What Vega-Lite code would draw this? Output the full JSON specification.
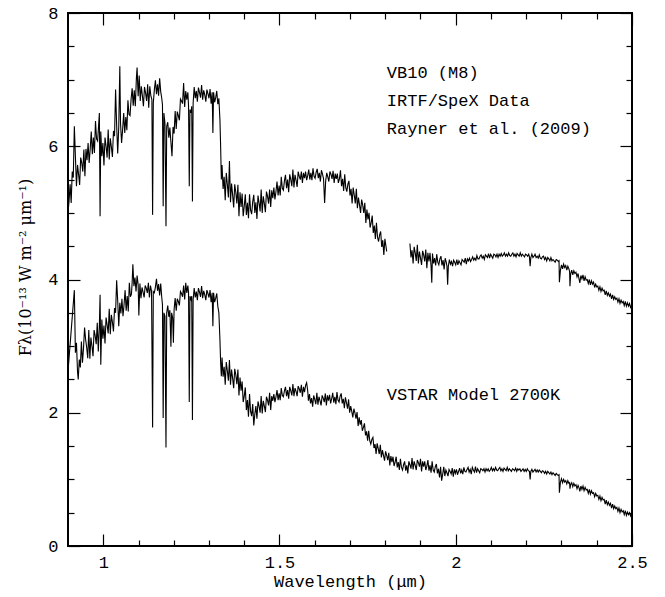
{
  "$schema": "https://vega.github.io/schema/vega-lite/v6.json",
  "width": 564,
  "height": 533,
  "autosize": {"type": "none"},
  "padding": {"left": 68, "top": 13, "right": 33, "bottom": 51},
  "background": "white",
  "config": {
    "view": {"stroke": "black", "strokeWidth": 2},
    "axis": {
      "domain": false,
      "grid": false,
      "tickColor": "black",
      "tickWidth": 1.2,
      "labelColor": "black",
      "labelFont": "Liberation Mono",
      "labelFontSize": 17,
      "titleColor": "black",
      "titleFont": "Liberation Mono",
      "titleFontSize": 17,
      "titleFontWeight": "normal"
    },
    "text": {"font": "Liberation Mono", "fontSize": 17, "color": "black"}
  },
  "datasets": {
    "vb10": [
      {"wl":0.900,"flux":5.0,"part":1},{"wl":0.903,"flux":5.18,"part":1},{"wl":0.906,"flux":5.43,"part":1},{"wl":0.909,"flux":5.15,"part":1},{"wl":0.912,"flux":5.62,"part":1},{"wl":0.915,"flux":5.53,"part":1},{"wl":0.918,"flux":6.3,"part":1},{"wl":0.921,"flux":5.85,"part":1},{"wl":0.924,"flux":5.4,"part":1},{"wl":0.927,"flux":5.72,"part":1},{"wl":0.930,"flux":5.58,"part":1},{"wl":0.933,"flux":5.42,"part":1},{"wl":0.936,"flux":5.83,"part":1},{"wl":0.939,"flux":5.75,"part":1},{"wl":0.942,"flux":5.62,"part":1},{"wl":0.945,"flux":5.95,"part":1},{"wl":0.948,"flux":5.55,"part":1},{"wl":0.951,"flux":5.96,"part":1},{"wl":0.954,"flux":5.79,"part":1},{"wl":0.957,"flux":6.05,"part":1},{"wl":0.960,"flux":5.75,"part":1},{"wl":0.963,"flux":5.96,"part":1},{"wl":0.966,"flux":6.22,"part":1},{"wl":0.969,"flux":5.88,"part":1},{"wl":0.972,"flux":6.13,"part":1},{"wl":0.975,"flux":5.9,"part":1},{"wl":0.978,"flux":6.38,"part":1},{"wl":0.981,"flux":6.11,"part":1},{"wl":0.984,"flux":6.08,"part":1},{"wl":0.987,"flux":6.33,"part":1},{"wl":0.989,"flux":6.5,"part":1},{"wl":0.991,"flux":4.95,"part":1},{"wl":0.993,"flux":6.22,"part":1},{"wl":0.996,"flux":5.85,"part":1},{"wl":0.999,"flux":6.05,"part":1},{"wl":1.002,"flux":5.71,"part":1},{"wl":1.005,"flux":6.13,"part":1},{"wl":1.008,"flux":6.0,"part":1},{"wl":1.011,"flux":5.83,"part":1},{"wl":1.014,"flux":6.25,"part":1},{"wl":1.017,"flux":5.8,"part":1},{"wl":1.020,"flux":6.12,"part":1},{"wl":1.023,"flux":5.99,"part":1},{"wl":1.026,"flux":5.84,"part":1},{"wl":1.029,"flux":6.23,"part":1},{"wl":1.032,"flux":6.15,"part":1},{"wl":1.035,"flux":6.85,"part":1},{"wl":1.038,"flux":6.32,"part":1},{"wl":1.041,"flux":5.89,"part":1},{"wl":1.044,"flux":6.29,"part":1},{"wl":1.047,"flux":7.2,"part":1},{"wl":1.049,"flux":6.35,"part":1},{"wl":1.052,"flux":6.05,"part":1},{"wl":1.055,"flux":6.25,"part":1},{"wl":1.058,"flux":6.5,"part":1},{"wl":1.061,"flux":6.2,"part":1},{"wl":1.064,"flux":6.44,"part":1},{"wl":1.067,"flux":6.24,"part":1},{"wl":1.070,"flux":6.69,"part":1},{"wl":1.073,"flux":6.48,"part":1},{"wl":1.076,"flux":6.46,"part":1},{"wl":1.079,"flux":6.71,"part":1},{"wl":1.082,"flux":6.87,"part":1},{"wl":1.085,"flux":6.61,"part":1},{"wl":1.088,"flux":6.84,"part":1},{"wl":1.091,"flux":6.6,"part":1},{"wl":1.094,"flux":7.02,"part":1},{"wl":1.096,"flux":7.18,"part":1},{"wl":1.099,"flux":6.75,"part":1},{"wl":1.102,"flux":7.06,"part":1},{"wl":1.105,"flux":6.68,"part":1},{"wl":1.108,"flux":6.9,"part":1},{"wl":1.111,"flux":6.76,"part":1},{"wl":1.114,"flux":6.6,"part":1},{"wl":1.117,"flux":6.89,"part":1},{"wl":1.120,"flux":6.8,"part":1},{"wl":1.123,"flux":6.68,"part":1},{"wl":1.126,"flux":6.93,"part":1},{"wl":1.129,"flux":6.58,"part":1},{"wl":1.132,"flux":6.9,"part":1},{"wl":1.135,"flux":6.76,"part":1},{"wl":1.138,"flux":6.7,"part":1},{"wl":1.140,"flux":4.97,"part":1},{"wl":1.142,"flux":6.65,"part":1},{"wl":1.145,"flux":6.85,"part":1},{"wl":1.148,"flux":6.99,"part":1},{"wl":1.151,"flux":6.78,"part":1},{"wl":1.154,"flux":6.93,"part":1},{"wl":1.157,"flux":6.76,"part":1},{"wl":1.160,"flux":7.02,"part":1},{"wl":1.163,"flux":6.82,"part":1},{"wl":1.166,"flux":6.72,"part":1},{"wl":1.168,"flux":6.62,"part":1},{"wl":1.170,"flux":5.1,"part":1},{"wl":1.172,"flux":6.5,"part":1},{"wl":1.175,"flux":6.35,"part":1},{"wl":1.178,"flux":4.8,"part":1},{"wl":1.180,"flux":6.3,"part":1},{"wl":1.183,"flux":6.36,"part":1},{"wl":1.186,"flux":6.13,"part":1},{"wl":1.189,"flux":6.28,"part":1},{"wl":1.192,"flux":6.06,"part":1},{"wl":1.195,"flux":5.85,"part":1},{"wl":1.198,"flux":6.29,"part":1},{"wl":1.201,"flux":6.19,"part":1},{"wl":1.204,"flux":6.53,"part":1},{"wl":1.207,"flux":6.26,"part":1},{"wl":1.210,"flux":6.52,"part":1},{"wl":1.213,"flux":6.46,"part":1},{"wl":1.216,"flux":6.39,"part":1},{"wl":1.219,"flux":6.71,"part":1},{"wl":1.222,"flux":6.68,"part":1},{"wl":1.225,"flux":6.64,"part":1},{"wl":1.228,"flux":6.95,"part":1},{"wl":1.231,"flux":6.59,"part":1},{"wl":1.234,"flux":6.83,"part":1},{"wl":1.237,"flux":6.7,"part":1},{"wl":1.240,"flux":6.81,"part":1},{"wl":1.242,"flux":6.6,"part":1},{"wl":1.244,"flux":5.4,"part":1},{"wl":1.246,"flux":6.55,"part":1},{"wl":1.249,"flux":6.5,"part":1},{"wl":1.251,"flux":6.6,"part":1},{"wl":1.253,"flux":5.17,"part":1},{"wl":1.255,"flux":6.65,"part":1},{"wl":1.258,"flux":6.89,"part":1},{"wl":1.261,"flux":6.72,"part":1},{"wl":1.264,"flux":6.83,"part":1},{"wl":1.267,"flux":6.67,"part":1},{"wl":1.270,"flux":6.88,"part":1},{"wl":1.273,"flux":6.81,"part":1},{"wl":1.276,"flux":6.73,"part":1},{"wl":1.279,"flux":6.92,"part":1},{"wl":1.282,"flux":6.7,"part":1},{"wl":1.285,"flux":6.84,"part":1},{"wl":1.288,"flux":6.77,"part":1},{"wl":1.291,"flux":6.67,"part":1},{"wl":1.294,"flux":6.85,"part":1},{"wl":1.297,"flux":6.79,"part":1},{"wl":1.300,"flux":6.72,"part":1},{"wl":1.303,"flux":6.86,"part":1},{"wl":1.306,"flux":6.64,"part":1},{"wl":1.309,"flux":6.81,"part":1},{"wl":1.311,"flux":6.2,"part":1},{"wl":1.313,"flux":6.81,"part":1},{"wl":1.316,"flux":6.66,"part":1},{"wl":1.319,"flux":6.73,"part":1},{"wl":1.322,"flux":6.83,"part":1},{"wl":1.325,"flux":6.63,"part":1},{"wl":1.328,"flux":6.72,"part":1},{"wl":1.331,"flux":6.4,"part":1},{"wl":1.333,"flux":6.0,"part":1},{"wl":1.335,"flux":5.5,"part":1},{"wl":1.337,"flux":5.72,"part":1},{"wl":1.340,"flux":5.36,"part":1},{"wl":1.343,"flux":5.54,"part":1},{"wl":1.346,"flux":5.19,"part":1},{"wl":1.349,"flux":5.6,"part":1},{"wl":1.352,"flux":5.43,"part":1},{"wl":1.355,"flux":5.23,"part":1},{"wl":1.358,"flux":5.78,"part":1},{"wl":1.361,"flux":5.16,"part":1},{"wl":1.364,"flux":5.44,"part":1},{"wl":1.367,"flux":5.27,"part":1},{"wl":1.370,"flux":5.08,"part":1},{"wl":1.373,"flux":5.43,"part":1},{"wl":1.376,"flux":5.31,"part":1},{"wl":1.379,"flux":5.14,"part":1},{"wl":1.382,"flux":5.42,"part":1},{"wl":1.385,"flux":4.95,"part":1},{"wl":1.388,"flux":5.31,"part":1},{"wl":1.391,"flux":5.09,"part":1},{"wl":1.394,"flux":5.29,"part":1},{"wl":1.397,"flux":4.95,"part":1},{"wl":1.400,"flux":5.1,"part":1},{"wl":1.403,"flux":5.28,"part":1},{"wl":1.406,"flux":4.97,"part":1},{"wl":1.409,"flux":5.15,"part":1},{"wl":1.412,"flux":4.92,"part":1},{"wl":1.415,"flux":5.28,"part":1},{"wl":1.418,"flux":5.04,"part":1},{"wl":1.421,"flux":4.98,"part":1},{"wl":1.424,"flux":5.17,"part":1},{"wl":1.427,"flux":5.27,"part":1},{"wl":1.430,"flux":5.0,"part":1},{"wl":1.433,"flux":5.16,"part":1},{"wl":1.436,"flux":4.91,"part":1},{"wl":1.439,"flux":5.26,"part":1},{"wl":1.442,"flux":5.15,"part":1},{"wl":1.445,"flux":5.02,"part":1},{"wl":1.448,"flux":5.35,"part":1},{"wl":1.451,"flux":5.0,"part":1},{"wl":1.454,"flux":5.25,"part":1},{"wl":1.457,"flux":5.14,"part":1},{"wl":1.460,"flux":5.01,"part":1},{"wl":1.463,"flux":5.32,"part":1},{"wl":1.466,"flux":5.25,"part":1},{"wl":1.469,"flux":5.14,"part":1},{"wl":1.472,"flux":5.35,"part":1},{"wl":1.475,"flux":5.09,"part":1},{"wl":1.478,"flux":5.34,"part":1},{"wl":1.481,"flux":5.22,"part":1},{"wl":1.484,"flux":5.38,"part":1},{"wl":1.487,"flux":5.2,"part":1},{"wl":1.490,"flux":5.32,"part":1},{"wl":1.493,"flux":5.47,"part":1},{"wl":1.496,"flux":5.26,"part":1},{"wl":1.499,"flux":5.41,"part":1},{"wl":1.502,"flux":5.26,"part":1},{"wl":1.505,"flux":5.54,"part":1},{"wl":1.508,"flux":5.37,"part":1},{"wl":1.511,"flux":5.34,"part":1},{"wl":1.514,"flux":5.48,"part":1},{"wl":1.517,"flux":5.57,"part":1},{"wl":1.520,"flux":5.37,"part":1},{"wl":1.523,"flux":5.5,"part":1},{"wl":1.526,"flux":5.31,"part":1},{"wl":1.529,"flux":5.58,"part":1},{"wl":1.532,"flux":5.5,"part":1},{"wl":1.535,"flux":5.4,"part":1},{"wl":1.538,"flux":5.65,"part":1},{"wl":1.541,"flux":5.38,"part":1},{"wl":1.544,"flux":5.57,"part":1},{"wl":1.547,"flux":5.49,"part":1},{"wl":1.550,"flux":5.39,"part":1},{"wl":1.553,"flux":5.62,"part":1},{"wl":1.556,"flux":5.55,"part":1},{"wl":1.559,"flux":5.5,"part":1},{"wl":1.562,"flux":5.62,"part":1},{"wl":1.565,"flux":5.45,"part":1},{"wl":1.568,"flux":5.6,"part":1},{"wl":1.571,"flux":5.52,"part":1},{"wl":1.574,"flux":5.62,"part":1},{"wl":1.577,"flux":5.49,"part":1},{"wl":1.580,"flux":5.56,"part":1},{"wl":1.583,"flux":5.65,"part":1},{"wl":1.586,"flux":5.5,"part":1},{"wl":1.589,"flux":5.6,"part":1},{"wl":1.592,"flux":5.49,"part":1},{"wl":1.595,"flux":5.67,"part":1},{"wl":1.598,"flux":5.55,"part":1},{"wl":1.601,"flux":5.52,"part":1},{"wl":1.604,"flux":5.61,"part":1},{"wl":1.607,"flux":5.66,"part":1},{"wl":1.610,"flux":5.52,"part":1},{"wl":1.613,"flux":5.6,"part":1},{"wl":1.616,"flux":5.47,"part":1},{"wl":1.619,"flux":5.64,"part":1},{"wl":1.622,"flux":5.58,"part":1},{"wl":1.625,"flux":5.51,"part":1},{"wl":1.628,"flux":5.15,"part":1},{"wl":1.631,"flux":5.48,"part":1},{"wl":1.634,"flux":5.6,"part":1},{"wl":1.637,"flux":5.54,"part":1},{"wl":1.640,"flux":5.47,"part":1},{"wl":1.643,"flux":5.62,"part":1},{"wl":1.646,"flux":5.58,"part":1},{"wl":1.649,"flux":5.51,"part":1},{"wl":1.652,"flux":5.63,"part":1},{"wl":1.655,"flux":5.45,"part":1},{"wl":1.658,"flux":5.59,"part":1},{"wl":1.661,"flux":5.51,"part":1},{"wl":1.664,"flux":5.59,"part":1},{"wl":1.667,"flux":5.45,"part":1},{"wl":1.670,"flux":5.51,"part":1},{"wl":1.673,"flux":5.64,"part":1},{"wl":1.676,"flux":5.4,"part":1},{"wl":1.679,"flux":5.51,"part":1},{"wl":1.682,"flux":5.33,"part":1},{"wl":1.685,"flux":5.58,"part":1},{"wl":1.688,"flux":5.38,"part":1},{"wl":1.691,"flux":5.32,"part":1},{"wl":1.694,"flux":5.43,"part":1},{"wl":1.697,"flux":5.48,"part":1},{"wl":1.700,"flux":5.26,"part":1},{"wl":1.703,"flux":5.36,"part":1},{"wl":1.706,"flux":5.14,"part":1},{"wl":1.709,"flux":5.38,"part":1},{"wl":1.712,"flux":5.27,"part":1},{"wl":1.715,"flux":5.14,"part":1},{"wl":1.718,"flux":5.36,"part":1},{"wl":1.721,"flux":5.07,"part":1},{"wl":1.724,"flux":5.23,"part":1},{"wl":1.727,"flux":5.12,"part":1},{"wl":1.730,"flux":5.0,"part":1},{"wl":1.733,"flux":5.2,"part":1},{"wl":1.736,"flux":5.12,"part":1},{"wl":1.739,"flux":5.0,"part":1},{"wl":1.742,"flux":5.15,"part":1},{"wl":1.745,"flux":4.85,"part":1},{"wl":1.748,"flux":5.05,"part":1},{"wl":1.751,"flux":4.9,"part":1},{"wl":1.754,"flux":5.0,"part":1},{"wl":1.757,"flux":4.78,"part":1},{"wl":1.760,"flux":4.85,"part":1},{"wl":1.763,"flux":4.96,"part":1},{"wl":1.766,"flux":4.7,"part":1},{"wl":1.769,"flux":4.81,"part":1},{"wl":1.772,"flux":4.61,"part":1},{"wl":1.775,"flux":4.85,"part":1},{"wl":1.778,"flux":4.64,"part":1},{"wl":1.781,"flux":4.57,"part":1},{"wl":1.784,"flux":4.67,"part":1},{"wl":1.787,"flux":4.72,"part":1},{"wl":1.790,"flux":4.49,"part":1},{"wl":1.793,"flux":4.59,"part":1},{"wl":1.796,"flux":4.37,"part":1},{"wl":1.799,"flux":4.61,"part":1},{"wl":1.802,"flux":4.5,"part":1},{"wl":1.804,"flux":4.42,"part":1},
      {"wl":1.870,"flux":4.54,"part":2},{"wl":1.873,"flux":4.33,"part":2},{"wl":1.876,"flux":4.44,"part":2},{"wl":1.879,"flux":4.24,"part":2},{"wl":1.882,"flux":4.49,"part":2},{"wl":1.885,"flux":4.4,"part":2},{"wl":1.888,"flux":4.28,"part":2},{"wl":1.891,"flux":4.52,"part":2},{"wl":1.894,"flux":4.24,"part":2},{"wl":1.897,"flux":4.42,"part":2},{"wl":1.900,"flux":4.32,"part":2},{"wl":1.903,"flux":4.22,"part":2},{"wl":1.906,"flux":4.43,"part":2},{"wl":1.909,"flux":4.37,"part":2},{"wl":1.912,"flux":4.27,"part":2},{"wl":1.915,"flux":4.45,"part":2},{"wl":1.918,"flux":4.17,"part":2},{"wl":1.921,"flux":4.4,"part":2},{"wl":1.924,"flux":4.27,"part":2},{"wl":1.927,"flux":4.4,"part":2},{"wl":1.930,"flux":4.2,"part":2},{"wl":1.932,"flux":3.95,"part":2},{"wl":1.934,"flux":4.39,"part":2},{"wl":1.937,"flux":4.24,"part":2},{"wl":1.940,"flux":4.32,"part":2},{"wl":1.943,"flux":4.21,"part":2},{"wl":1.946,"flux":4.38,"part":2},{"wl":1.949,"flux":4.26,"part":2},{"wl":1.952,"flux":4.22,"part":2},{"wl":1.955,"flux":4.31,"part":2},{"wl":1.958,"flux":4.35,"part":2},{"wl":1.961,"flux":4.21,"part":2},{"wl":1.964,"flux":4.29,"part":2},{"wl":1.967,"flux":4.15,"part":2},{"wl":1.970,"flux":4.32,"part":2},{"wl":1.973,"flux":4.26,"part":2},{"wl":1.975,"flux":4.2,"part":2},{"wl":1.977,"flux":3.92,"part":2},{"wl":1.979,"flux":4.2,"part":2},{"wl":1.982,"flux":4.3,"part":2},{"wl":1.985,"flux":4.23,"part":2},{"wl":1.988,"flux":4.27,"part":2},{"wl":1.991,"flux":4.2,"part":2},{"wl":1.994,"flux":4.29,"part":2},{"wl":1.997,"flux":4.26,"part":2},{"wl":2.000,"flux":4.22,"part":2},{"wl":2.003,"flux":4.3,"part":2},{"wl":2.006,"flux":4.22,"part":2},{"wl":2.009,"flux":4.28,"part":2},{"wl":2.012,"flux":4.25,"part":2},{"wl":2.015,"flux":4.22,"part":2},{"wl":2.018,"flux":4.3,"part":2},{"wl":2.021,"flux":4.28,"part":2},{"wl":2.024,"flux":4.26,"part":2},{"wl":2.027,"flux":4.32,"part":2},{"wl":2.030,"flux":4.23,"part":2},{"wl":2.033,"flux":4.31,"part":2},{"wl":2.036,"flux":4.28,"part":2},{"wl":2.039,"flux":4.32,"part":2},{"wl":2.042,"flux":4.27,"part":2},{"wl":2.045,"flux":4.3,"part":2},{"wl":2.048,"flux":4.34,"part":2},{"wl":2.051,"flux":4.29,"part":2},{"wl":2.054,"flux":4.32,"part":2},{"wl":2.057,"flux":4.29,"part":2},{"wl":2.060,"flux":4.36,"part":2},{"wl":2.063,"flux":4.31,"part":2},{"wl":2.066,"flux":4.31,"part":2},{"wl":2.069,"flux":4.35,"part":2},{"wl":2.072,"flux":4.37,"part":2},{"wl":2.075,"flux":4.32,"part":2},{"wl":2.078,"flux":4.35,"part":2},{"wl":2.081,"flux":4.3,"part":2},{"wl":2.084,"flux":4.37,"part":2},{"wl":2.087,"flux":4.35,"part":2},{"wl":2.090,"flux":4.33,"part":2},{"wl":2.093,"flux":4.39,"part":2},{"wl":2.096,"flux":4.32,"part":2},{"wl":2.099,"flux":4.38,"part":2},{"wl":2.102,"flux":4.35,"part":2},{"wl":2.105,"flux":4.32,"part":2},{"wl":2.108,"flux":4.38,"part":2},{"wl":2.111,"flux":4.37,"part":2},{"wl":2.114,"flux":4.34,"part":2},{"wl":2.117,"flux":4.38,"part":2},{"wl":2.120,"flux":4.33,"part":2},{"wl":2.123,"flux":4.38,"part":2},{"wl":2.126,"flux":4.35,"part":2},{"wl":2.129,"flux":4.39,"part":2},{"wl":2.132,"flux":4.35,"part":2},{"wl":2.135,"flux":4.37,"part":2},{"wl":2.138,"flux":4.4,"part":2},{"wl":2.141,"flux":4.35,"part":2},{"wl":2.144,"flux":4.38,"part":2},{"wl":2.147,"flux":4.35,"part":2},{"wl":2.150,"flux":4.4,"part":2},{"wl":2.153,"flux":4.36,"part":2},{"wl":2.156,"flux":4.35,"part":2},{"wl":2.159,"flux":4.38,"part":2},{"wl":2.162,"flux":4.4,"part":2},{"wl":2.165,"flux":4.35,"part":2},{"wl":2.168,"flux":4.38,"part":2},{"wl":2.171,"flux":4.34,"part":2},{"wl":2.174,"flux":4.39,"part":2},{"wl":2.177,"flux":4.37,"part":2},{"wl":2.180,"flux":4.35,"part":2},{"wl":2.183,"flux":4.4,"part":2},{"wl":2.186,"flux":4.35,"part":2},{"wl":2.189,"flux":4.38,"part":2},{"wl":2.192,"flux":4.36,"part":2},{"wl":2.195,"flux":4.34,"part":2},{"wl":2.198,"flux":4.38,"part":2},{"wl":2.201,"flux":4.37,"part":2},{"wl":2.204,"flux":4.35,"part":2},{"wl":2.207,"flux":4.38,"part":2},{"wl":2.209,"flux":4.34,"part":2},{"wl":2.211,"flux":4.2,"part":2},{"wl":2.213,"flux":4.33,"part":2},{"wl":2.216,"flux":4.38,"part":2},{"wl":2.219,"flux":4.33,"part":2},{"wl":2.222,"flux":4.35,"part":2},{"wl":2.225,"flux":4.38,"part":2},{"wl":2.228,"flux":4.33,"part":2},{"wl":2.231,"flux":4.35,"part":2},{"wl":2.234,"flux":4.32,"part":2},{"wl":2.237,"flux":4.37,"part":2},{"wl":2.240,"flux":4.32,"part":2},{"wl":2.243,"flux":4.31,"part":2},{"wl":2.246,"flux":4.34,"part":2},{"wl":2.249,"flux":4.35,"part":2},{"wl":2.252,"flux":4.3,"part":2},{"wl":2.255,"flux":4.33,"part":2},{"wl":2.258,"flux":4.28,"part":2},{"wl":2.261,"flux":4.33,"part":2},{"wl":2.264,"flux":4.31,"part":2},{"wl":2.267,"flux":4.28,"part":2},{"wl":2.270,"flux":4.33,"part":2},{"wl":2.273,"flux":4.28,"part":2},{"wl":2.276,"flux":4.3,"part":2},{"wl":2.279,"flux":4.28,"part":2},{"wl":2.282,"flux":4.26,"part":2},{"wl":2.285,"flux":4.3,"part":2},{"wl":2.288,"flux":4.29,"part":2},{"wl":2.291,"flux":4.27,"part":2},{"wl":2.293,"flux":4.28,"part":2},{"wl":2.294,"flux":3.96,"part":2},{"wl":2.297,"flux":4.14,"part":2},{"wl":2.300,"flux":4.22,"part":2},{"wl":2.303,"flux":4.16,"part":2},{"wl":2.306,"flux":4.23,"part":2},{"wl":2.309,"flux":4.18,"part":2},{"wl":2.312,"flux":4.21,"part":2},{"wl":2.315,"flux":4.14,"part":2},{"wl":2.318,"flux":4.2,"part":2},{"wl":2.321,"flux":4.16,"part":2},{"wl":2.323,"flux":4.12,"part":2},{"wl":2.324,"flux":3.9,"part":2},{"wl":2.326,"flux":4.08,"part":2},{"wl":2.329,"flux":4.14,"part":2},{"wl":2.332,"flux":4.07,"part":2},{"wl":2.335,"flux":4.13,"part":2},{"wl":2.338,"flux":4.09,"part":2},{"wl":2.341,"flux":4.11,"part":2},{"wl":2.344,"flux":4.04,"part":2},{"wl":2.347,"flux":4.09,"part":2},{"wl":2.350,"flux":4.0,"part":2},{"wl":2.352,"flux":3.95,"part":2},{"wl":2.355,"flux":4.06,"part":2},{"wl":2.358,"flux":4.01,"part":2},{"wl":2.361,"flux":4.07,"part":2},{"wl":2.364,"flux":3.98,"part":2},{"wl":2.367,"flux":4.04,"part":2},{"wl":2.370,"flux":3.99,"part":2},{"wl":2.373,"flux":4.0,"part":2},{"wl":2.376,"flux":3.94,"part":2},{"wl":2.379,"flux":4.0,"part":2},{"wl":2.382,"flux":3.92,"part":2},{"wl":2.385,"flux":3.98,"part":2},{"wl":2.388,"flux":3.93,"part":2},{"wl":2.391,"flux":3.96,"part":2},{"wl":2.394,"flux":3.88,"part":2},{"wl":2.397,"flux":3.93,"part":2},{"wl":2.400,"flux":3.89,"part":2},{"wl":2.403,"flux":3.9,"part":2},{"wl":2.406,"flux":3.84,"part":2},{"wl":2.409,"flux":3.89,"part":2},{"wl":2.412,"flux":3.82,"part":2},{"wl":2.415,"flux":3.87,"part":2},{"wl":2.418,"flux":3.83,"part":2},{"wl":2.421,"flux":3.84,"part":2},{"wl":2.424,"flux":3.77,"part":2},{"wl":2.427,"flux":3.83,"part":2},{"wl":2.430,"flux":3.76,"part":2},{"wl":2.433,"flux":3.8,"part":2},{"wl":2.436,"flux":3.75,"part":2},{"wl":2.439,"flux":3.78,"part":2},{"wl":2.442,"flux":3.71,"part":2},{"wl":2.445,"flux":3.77,"part":2},{"wl":2.448,"flux":3.7,"part":2},{"wl":2.451,"flux":3.74,"part":2},{"wl":2.454,"flux":3.7,"part":2},{"wl":2.457,"flux":3.72,"part":2},{"wl":2.460,"flux":3.66,"part":2},{"wl":2.463,"flux":3.71,"part":2},{"wl":2.466,"flux":3.64,"part":2},{"wl":2.469,"flux":3.69,"part":2},{"wl":2.472,"flux":3.65,"part":2},{"wl":2.475,"flux":3.67,"part":2},{"wl":2.478,"flux":3.61,"part":2},{"wl":2.481,"flux":3.67,"part":2},{"wl":2.484,"flux":3.6,"part":2},{"wl":2.487,"flux":3.65,"part":2},{"wl":2.490,"flux":3.6,"part":2},{"wl":2.493,"flux":3.64,"part":2},{"wl":2.496,"flux":3.58,"part":2},{"wl":2.500,"flux":3.62,"part":2}
    ],
    "model": [
      {"wl":0.900,"flux":2.62},{"wl":0.918,"flux":3.84},{"wl":0.921,"flux":2.9},{"wl":0.924,"flux":3.05},{"wl":0.927,"flux":2.62},{"wl":0.929,"flux":2.5},{"wl":0.932,"flux":2.8},{"wl":0.935,"flux":2.68},{"wl":0.938,"flux":3.07},{"wl":0.941,"flux":2.75},{"wl":0.944,"flux":2.97},{"wl":0.947,"flux":3.28},{"wl":0.950,"flux":3.1},{"wl":0.953,"flux":2.98},{"wl":0.956,"flux":2.82},{"wl":0.959,"flux":3.24},{"wl":0.962,"flux":2.81},{"wl":0.965,"flux":3.13},{"wl":0.968,"flux":3.0},{"wl":0.971,"flux":2.85},{"wl":0.974,"flux":3.24},{"wl":0.977,"flux":3.16},{"wl":0.980,"flux":3.03},{"wl":0.983,"flux":3.35},{"wl":0.986,"flux":2.92},{"wl":0.989,"flux":3.31},{"wl":0.991,"flux":3.77},{"wl":0.993,"flux":2.72},{"wl":0.996,"flux":3.4},{"wl":0.999,"flux":3.11},{"wl":1.002,"flux":3.31},{"wl":1.005,"flux":3.04},{"wl":1.008,"flux":3.43},{"wl":1.011,"flux":3.32},{"wl":1.014,"flux":3.19},{"wl":1.017,"flux":3.56},{"wl":1.020,"flux":3.18},{"wl":1.023,"flux":3.47},{"wl":1.026,"flux":3.36},{"wl":1.029,"flux":3.22},{"wl":1.032,"flux":3.57},{"wl":1.035,"flux":3.5},{"wl":1.038,"flux":3.99},{"wl":1.041,"flux":3.68},{"wl":1.044,"flux":3.3},{"wl":1.047,"flux":3.65},{"wl":1.050,"flux":3.49},{"wl":1.053,"flux":3.71},{"wl":1.056,"flux":3.45},{"wl":1.059,"flux":3.62},{"wl":1.062,"flux":3.84},{"wl":1.065,"flux":3.53},{"wl":1.068,"flux":3.75},{"wl":1.071,"flux":3.52},{"wl":1.074,"flux":3.95},{"wl":1.077,"flux":3.74},{"wl":1.080,"flux":3.78},{"wl":1.082,"flux":3.96},{"wl":1.084,"flux":4.23},{"wl":1.087,"flux":3.9},{"wl":1.090,"flux":4.03},{"wl":1.093,"flux":3.82},{"wl":1.096,"flux":4.06},{"wl":1.099,"flux":3.92},{"wl":1.101,"flux":3.46},{"wl":1.104,"flux":3.94},{"wl":1.107,"flux":3.72},{"wl":1.110,"flux":3.88},{"wl":1.113,"flux":3.81},{"wl":1.116,"flux":3.73},{"wl":1.119,"flux":3.91},{"wl":1.122,"flux":3.87},{"wl":1.125,"flux":3.8},{"wl":1.128,"flux":3.95},{"wl":1.131,"flux":3.73},{"wl":1.134,"flux":3.91},{"wl":1.137,"flux":3.82},{"wl":1.140,"flux":1.78},{"wl":1.142,"flux":3.82},{"wl":1.145,"flux":3.8},{"wl":1.148,"flux":3.89},{"wl":1.151,"flux":4.01},{"wl":1.154,"flux":3.83},{"wl":1.157,"flux":3.93},{"wl":1.160,"flux":3.76},{"wl":1.163,"flux":3.94},{"wl":1.166,"flux":3.73},{"wl":1.168,"flux":3.62},{"wl":1.170,"flux":1.92},{"wl":1.172,"flux":3.5},{"wl":1.175,"flux":3.45},{"wl":1.178,"flux":1.48},{"wl":1.180,"flux":3.5},{"wl":1.183,"flux":3.61},{"wl":1.186,"flux":3.44},{"wl":1.189,"flux":3.54},{"wl":1.192,"flux":2.99},{"wl":1.194,"flux":3.5},{"wl":1.197,"flux":3.42},{"wl":1.199,"flux":3.05},{"wl":1.201,"flux":3.55},{"wl":1.204,"flux":3.72},{"wl":1.207,"flux":3.53},{"wl":1.210,"flux":3.71},{"wl":1.213,"flux":3.67},{"wl":1.216,"flux":3.61},{"wl":1.219,"flux":3.82},{"wl":1.222,"flux":3.79},{"wl":1.225,"flux":3.74},{"wl":1.228,"flux":3.91},{"wl":1.231,"flux":3.7},{"wl":1.234,"flux":3.95},{"wl":1.237,"flux":3.8},{"wl":1.240,"flux":3.91},{"wl":1.242,"flux":3.8},{"wl":1.244,"flux":2.16},{"wl":1.246,"flux":3.75},{"wl":1.249,"flux":3.7},{"wl":1.251,"flux":3.75},{"wl":1.253,"flux":1.89},{"wl":1.255,"flux":3.7},{"wl":1.258,"flux":3.87},{"wl":1.261,"flux":3.73},{"wl":1.264,"flux":3.82},{"wl":1.267,"flux":3.69},{"wl":1.270,"flux":3.87},{"wl":1.273,"flux":3.81},{"wl":1.276,"flux":3.74},{"wl":1.279,"flux":3.9},{"wl":1.282,"flux":3.72},{"wl":1.285,"flux":3.83},{"wl":1.288,"flux":3.77},{"wl":1.291,"flux":3.69},{"wl":1.294,"flux":3.84},{"wl":1.297,"flux":3.79},{"wl":1.300,"flux":3.73},{"wl":1.303,"flux":3.84},{"wl":1.306,"flux":3.66},{"wl":1.309,"flux":3.8},{"wl":1.311,"flux":3.3},{"wl":1.313,"flux":3.8},{"wl":1.316,"flux":3.66},{"wl":1.319,"flux":3.72},{"wl":1.322,"flux":3.79},{"wl":1.325,"flux":3.6},{"wl":1.328,"flux":3.5},{"wl":1.331,"flux":3.1},{"wl":1.333,"flux":2.75},{"wl":1.335,"flux":2.55},{"wl":1.337,"flux":2.83},{"wl":1.340,"flux":2.54},{"wl":1.343,"flux":2.69},{"wl":1.346,"flux":2.42},{"wl":1.349,"flux":2.76},{"wl":1.352,"flux":2.63},{"wl":1.355,"flux":2.48},{"wl":1.358,"flux":2.79},{"wl":1.361,"flux":2.42},{"wl":1.364,"flux":2.65},{"wl":1.367,"flux":2.52},{"wl":1.370,"flux":2.37},{"wl":1.373,"flux":2.66},{"wl":1.376,"flux":2.57},{"wl":1.379,"flux":2.43},{"wl":1.382,"flux":2.65},{"wl":1.385,"flux":2.26},{"wl":1.388,"flux":2.53},{"wl":1.391,"flux":2.33},{"wl":1.394,"flux":2.47},{"wl":1.397,"flux":2.16},{"wl":1.400,"flux":2.25},{"wl":1.403,"flux":2.38},{"wl":1.406,"flux":2.04},{"wl":1.409,"flux":2.19},{"wl":1.412,"flux":1.94},{"wl":1.415,"flux":2.28},{"wl":1.418,"flux":2.02},{"wl":1.421,"flux":1.95},{"wl":1.424,"flux":2.13},{"wl":1.427,"flux":1.81},{"wl":1.430,"flux":1.98},{"wl":1.433,"flux":2.1},{"wl":1.436,"flux":1.91},{"wl":1.439,"flux":2.17},{"wl":1.442,"flux":2.1},{"wl":1.445,"flux":2.0},{"wl":1.448,"flux":2.25},{"wl":1.451,"flux":1.99},{"wl":1.454,"flux":2.18},{"wl":1.457,"flux":2.1},{"wl":1.460,"flux":2.01},{"wl":1.463,"flux":2.24},{"wl":1.466,"flux":2.19},{"wl":1.469,"flux":2.11},{"wl":1.472,"flux":2.3},{"wl":1.475,"flux":2.04},{"wl":1.478,"flux":2.25},{"wl":1.481,"flux":2.18},{"wl":1.484,"flux":2.28},{"wl":1.487,"flux":2.16},{"wl":1.490,"flux":2.24},{"wl":1.493,"flux":2.34},{"wl":1.496,"flux":2.19},{"wl":1.499,"flux":2.29},{"wl":1.502,"flux":2.19},{"wl":1.505,"flux":2.37},{"wl":1.508,"flux":2.26},{"wl":1.511,"flux":2.24},{"wl":1.514,"flux":2.33},{"wl":1.517,"flux":2.39},{"wl":1.520,"flux":2.25},{"wl":1.523,"flux":2.34},{"wl":1.526,"flux":2.21},{"wl":1.529,"flux":2.39},{"wl":1.532,"flux":2.33},{"wl":1.535,"flux":2.26},{"wl":1.538,"flux":2.43},{"wl":1.541,"flux":2.25},{"wl":1.544,"flux":2.37},{"wl":1.547,"flux":2.32},{"wl":1.550,"flux":2.25},{"wl":1.553,"flux":2.4},{"wl":1.556,"flux":2.36},{"wl":1.559,"flux":2.3},{"wl":1.562,"flux":2.42},{"wl":1.565,"flux":2.24},{"wl":1.568,"flux":2.39},{"wl":1.571,"flux":2.31},{"wl":1.574,"flux":2.41},{"wl":1.577,"flux":2.45},{"wl":1.580,"flux":2.33},{"wl":1.582,"flux":2.18},{"wl":1.585,"flux":2.28},{"wl":1.588,"flux":2.14},{"wl":1.591,"flux":2.22},{"wl":1.594,"flux":2.09},{"wl":1.597,"flux":2.26},{"wl":1.600,"flux":2.2},{"wl":1.603,"flux":2.13},{"wl":1.606,"flux":2.3},{"wl":1.609,"flux":2.12},{"wl":1.612,"flux":2.24},{"wl":1.615,"flux":2.18},{"wl":1.618,"flux":2.11},{"wl":1.621,"flux":2.26},{"wl":1.624,"flux":2.22},{"wl":1.627,"flux":2.16},{"wl":1.630,"flux":2.29},{"wl":1.633,"flux":2.11},{"wl":1.636,"flux":2.26},{"wl":1.639,"flux":2.18},{"wl":1.642,"flux":2.27},{"wl":1.645,"flux":2.14},{"wl":1.648,"flux":2.21},{"wl":1.651,"flux":2.3},{"wl":1.654,"flux":2.15},{"wl":1.657,"flux":2.24},{"wl":1.660,"flux":2.13},{"wl":1.663,"flux":2.31},{"wl":1.666,"flux":2.19},{"wl":1.669,"flux":2.16},{"wl":1.672,"flux":2.25},{"wl":1.675,"flux":2.29},{"wl":1.678,"flux":2.14},{"wl":1.681,"flux":2.21},{"wl":1.684,"flux":2.07},{"wl":1.687,"flux":2.23},{"wl":1.690,"flux":2.15},{"wl":1.693,"flux":2.06},{"wl":1.696,"flux":2.2},{"wl":1.699,"flux":2.0},{"wl":1.702,"flux":2.1},{"wl":1.705,"flux":2.02},{"wl":1.708,"flux":1.93},{"wl":1.711,"flux":2.06},{"wl":1.714,"flux":2.0},{"wl":1.717,"flux":1.91},{"wl":1.720,"flux":2.01},{"wl":1.723,"flux":1.8},{"wl":1.726,"flux":1.93},{"wl":1.729,"flux":1.82},{"wl":1.732,"flux":1.89},{"wl":1.735,"flux":1.73},{"wl":1.738,"flux":1.78},{"wl":1.741,"flux":1.84},{"wl":1.744,"flux":1.66},{"wl":1.747,"flux":1.72},{"wl":1.750,"flux":1.58},{"wl":1.753,"flux":1.73},{"wl":1.756,"flux":1.58},{"wl":1.759,"flux":1.53},{"wl":1.762,"flux":1.6},{"wl":1.765,"flux":1.63},{"wl":1.768,"flux":1.47},{"wl":1.771,"flux":1.53},{"wl":1.774,"flux":1.38},{"wl":1.777,"flux":1.54},{"wl":1.780,"flux":1.46},{"wl":1.783,"flux":1.38},{"wl":1.786,"flux":1.52},{"wl":1.789,"flux":1.33},{"wl":1.792,"flux":1.44},{"wl":1.795,"flux":1.36},{"wl":1.798,"flux":1.28},{"wl":1.801,"flux":1.42},{"wl":1.804,"flux":1.36},{"wl":1.807,"flux":1.29},{"wl":1.810,"flux":1.4},{"wl":1.813,"flux":1.21},{"wl":1.816,"flux":1.35},{"wl":1.819,"flux":1.26},{"wl":1.822,"flux":1.34},{"wl":1.825,"flux":1.2},{"wl":1.828,"flux":1.26},{"wl":1.831,"flux":1.34},{"wl":1.834,"flux":1.18},{"wl":1.837,"flux":1.26},{"wl":1.840,"flux":1.14},{"wl":1.843,"flux":1.31},{"wl":1.846,"flux":1.18},{"wl":1.849,"flux":1.14},{"wl":1.852,"flux":1.22},{"wl":1.855,"flux":1.27},{"wl":1.858,"flux":1.13},{"wl":1.861,"flux":1.21},{"wl":1.864,"flux":1.09},{"wl":1.867,"flux":1.27},{"wl":1.870,"flux":1.22},{"wl":1.873,"flux":1.16},{"wl":1.876,"flux":1.32},{"wl":1.879,"flux":1.15},{"wl":1.882,"flux":1.27},{"wl":1.885,"flux":1.21},{"wl":1.888,"flux":1.14},{"wl":1.891,"flux":1.29},{"wl":1.894,"flux":1.25},{"wl":1.897,"flux":1.19},{"wl":1.900,"flux":1.31},{"wl":1.903,"flux":1.12},{"wl":1.906,"flux":1.27},{"wl":1.909,"flux":1.19},{"wl":1.912,"flux":1.27},{"wl":1.915,"flux":1.14},{"wl":1.918,"flux":1.2},{"wl":1.921,"flux":1.29},{"wl":1.924,"flux":1.13},{"wl":1.927,"flux":1.21},{"wl":1.930,"flux":1.1},{"wl":1.933,"flux":1.27},{"wl":1.936,"flux":1.14},{"wl":1.939,"flux":1.11},{"wl":1.942,"flux":1.19},{"wl":1.945,"flux":1.23},{"wl":1.948,"flux":1.09},{"wl":1.951,"flux":1.16},{"wl":1.954,"flux":1.03},{"wl":1.957,"flux":1.19},{"wl":1.960,"flux":0.98},{"wl":1.963,"flux":1.08},{"wl":1.966,"flux":1.19},{"wl":1.969,"flux":1.05},{"wl":1.972,"flux":1.14},{"wl":1.975,"flux":1.1},{"wl":1.978,"flux":1.05},{"wl":1.981,"flux":1.15},{"wl":1.984,"flux":1.12},{"wl":1.987,"flux":1.08},{"wl":1.990,"flux":1.17},{"wl":1.993,"flux":1.04},{"wl":1.996,"flux":1.15},{"wl":1.999,"flux":1.09},{"wl":2.002,"flux":1.15},{"wl":2.005,"flux":1.07},{"wl":2.008,"flux":1.12},{"wl":2.011,"flux":1.17},{"wl":2.014,"flux":1.09},{"wl":2.017,"flux":1.14},{"wl":2.020,"flux":1.08},{"wl":2.023,"flux":1.18},{"wl":2.026,"flux":1.12},{"wl":2.029,"flux":1.11},{"wl":2.032,"flux":1.15},{"wl":2.035,"flux":1.18},{"wl":2.038,"flux":1.11},{"wl":2.041,"flux":1.15},{"wl":2.044,"flux":1.08},{"wl":2.047,"flux":1.18},{"wl":2.050,"flux":1.14},{"wl":2.053,"flux":1.11},{"wl":2.056,"flux":1.19},{"wl":2.059,"flux":1.1},{"wl":2.062,"flux":1.16},{"wl":2.065,"flux":1.13},{"wl":2.068,"flux":1.1},{"wl":2.071,"flux":1.16},{"wl":2.074,"flux":1.15},{"wl":2.077,"flux":1.13},{"wl":2.080,"flux":1.16},{"wl":2.083,"flux":1.11},{"wl":2.086,"flux":1.16},{"wl":2.089,"flux":1.13},{"wl":2.092,"flux":1.16},{"wl":2.095,"flux":1.12},{"wl":2.098,"flux":1.14},{"wl":2.101,"flux":1.18},{"wl":2.104,"flux":1.13},{"wl":2.107,"flux":1.16},{"wl":2.110,"flux":1.13},{"wl":2.113,"flux":1.18},{"wl":2.116,"flux":1.14},{"wl":2.119,"flux":1.13},{"wl":2.122,"flux":1.16},{"wl":2.125,"flux":1.18},{"wl":2.128,"flux":1.13},{"wl":2.131,"flux":1.16},{"wl":2.134,"flux":1.12},{"wl":2.137,"flux":1.17},{"wl":2.140,"flux":1.15},{"wl":2.143,"flux":1.13},{"wl":2.146,"flux":1.18},{"wl":2.149,"flux":1.13},{"wl":2.152,"flux":1.16},{"wl":2.155,"flux":1.14},{"wl":2.158,"flux":1.12},{"wl":2.161,"flux":1.16},{"wl":2.164,"flux":1.15},{"wl":2.167,"flux":1.13},{"wl":2.170,"flux":1.17},{"wl":2.173,"flux":1.12},{"wl":2.176,"flux":1.16},{"wl":2.179,"flux":1.14},{"wl":2.182,"flux":1.16},{"wl":2.185,"flux":1.12},{"wl":2.188,"flux":1.14},{"wl":2.191,"flux":1.16},{"wl":2.194,"flux":1.12},{"wl":2.197,"flux":1.15},{"wl":2.200,"flux":1.12},{"wl":2.203,"flux":1.16},{"wl":2.206,"flux":1.13},{"wl":2.209,"flux":1.12},{"wl":2.211,"flux":1.0},{"wl":2.213,"flux":1.12},{"wl":2.216,"flux":1.15},{"wl":2.219,"flux":1.11},{"wl":2.222,"flux":1.13},{"wl":2.225,"flux":1.15},{"wl":2.228,"flux":1.11},{"wl":2.231,"flux":1.14},{"wl":2.234,"flux":1.11},{"wl":2.237,"flux":1.14},{"wl":2.240,"flux":1.12},{"wl":2.243,"flux":1.1},{"wl":2.246,"flux":1.13},{"wl":2.249,"flux":1.12},{"wl":2.252,"flux":1.09},{"wl":2.255,"flux":1.12},{"wl":2.258,"flux":1.08},{"wl":2.261,"flux":1.12},{"wl":2.264,"flux":1.1},{"wl":2.267,"flux":1.08},{"wl":2.270,"flux":1.11},{"wl":2.273,"flux":1.07},{"wl":2.276,"flux":1.1},{"wl":2.279,"flux":1.08},{"wl":2.282,"flux":1.06},{"wl":2.285,"flux":1.09},{"wl":2.288,"flux":1.07},{"wl":2.291,"flux":1.06},{"wl":2.293,"flux":1.07},{"wl":2.294,"flux":0.8},{"wl":2.297,"flux":0.96},{"wl":2.300,"flux":1.01},{"wl":2.303,"flux":0.95},{"wl":2.306,"flux":1.0},{"wl":2.309,"flux":0.96},{"wl":2.312,"flux":0.98},{"wl":2.315,"flux":0.93},{"wl":2.318,"flux":0.98},{"wl":2.321,"flux":0.94},{"wl":2.323,"flux":0.95},{"wl":2.324,"flux":0.86},{"wl":2.326,"flux":0.92},{"wl":2.329,"flux":0.95},{"wl":2.332,"flux":0.89},{"wl":2.335,"flux":0.94},{"wl":2.338,"flux":0.9},{"wl":2.341,"flux":0.92},{"wl":2.344,"flux":0.86},{"wl":2.347,"flux":0.91},{"wl":2.350,"flux":0.87},{"wl":2.352,"flux":0.82},{"wl":2.355,"flux":0.9},{"wl":2.358,"flux":0.85},{"wl":2.361,"flux":0.9},{"wl":2.364,"flux":0.83},{"wl":2.367,"flux":0.88},{"wl":2.370,"flux":0.84},{"wl":2.373,"flux":0.85},{"wl":2.376,"flux":0.79},{"wl":2.379,"flux":0.85},{"wl":2.382,"flux":0.78},{"wl":2.385,"flux":0.83},{"wl":2.388,"flux":0.79},{"wl":2.391,"flux":0.8},{"wl":2.394,"flux":0.74},{"wl":2.397,"flux":0.79},{"wl":2.400,"flux":0.75},{"wl":2.403,"flux":0.76},{"wl":2.406,"flux":0.7},{"wl":2.409,"flux":0.75},{"wl":2.412,"flux":0.68},{"wl":2.415,"flux":0.73},{"wl":2.418,"flux":0.69},{"wl":2.421,"flux":0.7},{"wl":2.424,"flux":0.63},{"wl":2.427,"flux":0.69},{"wl":2.430,"flux":0.62},{"wl":2.433,"flux":0.66},{"wl":2.436,"flux":0.61},{"wl":2.439,"flux":0.64},{"wl":2.442,"flux":0.57},{"wl":2.445,"flux":0.63},{"wl":2.448,"flux":0.56},{"wl":2.451,"flux":0.6},{"wl":2.454,"flux":0.56},{"wl":2.457,"flux":0.58},{"wl":2.460,"flux":0.52},{"wl":2.463,"flux":0.57},{"wl":2.466,"flux":0.5},{"wl":2.469,"flux":0.55},{"wl":2.472,"flux":0.51},{"wl":2.475,"flux":0.53},{"wl":2.478,"flux":0.47},{"wl":2.481,"flux":0.53},{"wl":2.484,"flux":0.46},{"wl":2.487,"flux":0.51},{"wl":2.490,"flux":0.47},{"wl":2.493,"flux":0.5},{"wl":2.496,"flux":0.45},{"wl":2.500,"flux":0.5}
    ],
    "dataNotes": [
      {"wl":1.8045,"flux":7.03,"label":"VB10 (M8)"},
      {"wl":1.8045,"flux":6.61,"label":"IRTF/SpeX Data"},
      {"wl":1.8045,"flux":6.19,"label":"Rayner et al. (2009)"}
    ],
    "modelNotes": [
      {"wl":1.8045,"flux":2.19,"label":"VSTAR Model 2700K"}
    ]
  },
  "resolve": {"axis": {"x": "independent", "y": "independent"}},
  "layer": [
    {
      "data": {"name": "vb10"},
      "mark": {"type": "line", "color": "black", "strokeWidth": 1.1},
      "encoding": {
        "x": {
          "field": "wl", "type": "quantitative",
          "scale": {"domain": [0.9, 2.5], "nice": false, "zero": false},
          "axis": {
            "orient": "bottom", "values": [1, 1.5, 2, 2.5], "format": "~g",
            "tickSize": -12, "labelPadding": 20, "labelFlush": false, "labelOverlap": false,
            "title": "Wavelength (μm)", "titleX": 282, "titleY": 35,
            "titleBaseline": "middle", "titleAlign": "center"
          }
        },
        "y": {
          "field": "flux", "type": "quantitative",
          "scale": {"domain": [0, 8], "nice": false, "zero": false},
          "axis": {
            "orient": "left", "values": [0, 2, 4, 6, 8], "format": "d",
            "tickSize": -12, "labelPadding": 22, "labelFlush": false, "labelOverlap": false,
            "title": "Fλ(10⁻¹³ W m⁻² μm⁻¹)", "titleFont": "DejaVu Serif", "titleFontSize": 16,
            "titleX": -43, "titleY": 254, "titleAngle": -90,
            "titleBaseline": "middle", "titleAlign": "center"
          }
        },
        "detail": {"field": "part", "type": "nominal"}
      }
    },
    {
      "data": {"name": "model"},
      "mark": {"type": "line", "color": "black", "strokeWidth": 1.1},
      "encoding": {
        "x": {
          "field": "wl", "type": "quantitative",
          "scale": {"domain": [0.9, 2.5], "nice": false, "zero": false},
          "axis": {
            "orient": "bottom", "values": [1.1, 1.2, 1.3, 1.4, 1.6, 1.7, 1.8, 1.9, 2.1, 2.2, 2.3, 2.4],
            "tickSize": -6, "labels": false, "title": null
          }
        },
        "y": {
          "field": "flux", "type": "quantitative",
          "scale": {"domain": [0, 8], "nice": false, "zero": false},
          "axis": {
            "orient": "left", "values": [0.5, 1, 1.5, 2.5, 3, 3.5, 4.5, 5, 5.5, 6.5, 7, 7.5],
            "tickSize": -6, "labels": false, "title": null
          }
        }
      }
    },
    {
      "data": {"name": "dataNotes"},
      "mark": {"type": "text", "align": "left", "baseline": "alphabetic"},
      "encoding": {
        "x": {
          "field": "wl", "type": "quantitative",
          "scale": {"domain": [0.9, 2.5], "nice": false, "zero": false},
          "axis": {
            "orient": "top", "values": [1, 1.5, 2, 2.5],
            "tickSize": -12, "labels": false, "title": null
          }
        },
        "y": {
          "field": "flux", "type": "quantitative",
          "scale": {"domain": [0, 8], "nice": false, "zero": false},
          "axis": {
            "orient": "right", "values": [0, 2, 4, 6, 8],
            "tickSize": -12, "labels": false, "title": null
          }
        },
        "text": {"field": "label", "type": "nominal"}
      }
    },
    {
      "data": {"name": "modelNotes"},
      "mark": {"type": "text", "align": "left", "baseline": "alphabetic"},
      "encoding": {
        "x": {
          "field": "wl", "type": "quantitative",
          "scale": {"domain": [0.9, 2.5], "nice": false, "zero": false},
          "axis": {
            "orient": "top", "values": [1.1, 1.2, 1.3, 1.4, 1.6, 1.7, 1.8, 1.9, 2.1, 2.2, 2.3, 2.4],
            "tickSize": -6, "labels": false, "title": null
          }
        },
        "y": {
          "field": "flux", "type": "quantitative",
          "scale": {"domain": [0, 8], "nice": false, "zero": false},
          "axis": {
            "orient": "right", "values": [0.5, 1, 1.5, 2.5, 3, 3.5, 4.5, 5, 5.5, 6.5, 7, 7.5],
            "tickSize": -6, "labels": false, "title": null
          }
        },
        "text": {"field": "label", "type": "nominal"}
      }
    }
  ]
}
